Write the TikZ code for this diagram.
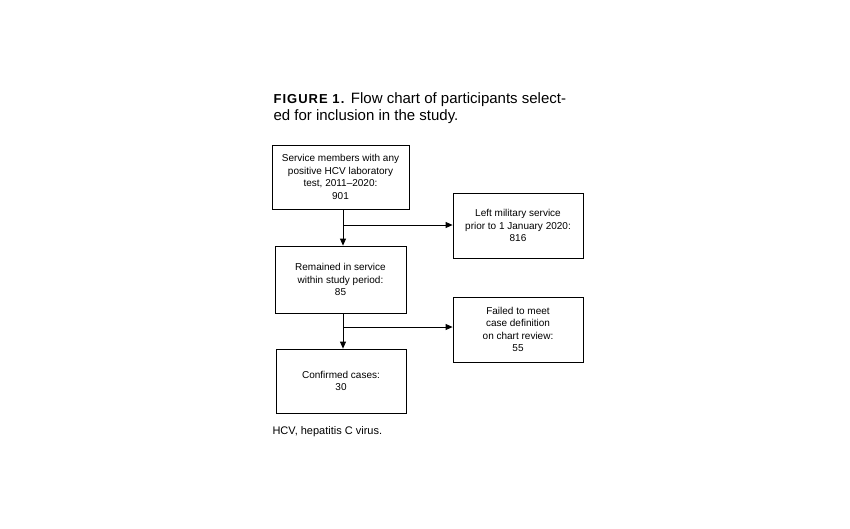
\documentclass[tikz,border=0pt]{standalone}
\usepackage{fontspec}
\setmainfont{Liberation Sans}
\usetikzlibrary{arrows.meta}
\begin{document}
\begin{tikzpicture}[x=1pt,y=-1pt,
  box/.style={draw,line width=0.8pt,minimum width=#1,align=center,font=\fontsize{10}{12.5}\selectfont,inner sep=0pt},
  arr/.style={line width=0.8pt,-{Triangle[length=7pt,width=6pt]}}]
\useasboundingbox (0,0) rectangle (850,528);
\node[anchor=west,font=\fontsize{15}{19}\selectfont] (t1) at (270,100) {\textbf{\addfontfeature{LetterSpace=8}\fontsize{13}{16}\selectfont FIGURE 1.} Flow chart of participants select-};
\node[anchor=west,font=\fontsize{15}{19}\selectfont] (t2) at (270,117) {ed for inclusion in the study.};
\node[box=137pt,minimum height=64pt] (b1) at (340.5,177) {Service members with any\\positive HCV laboratory\\test, 2011--2020:\\901};
\node[box=130pt,minimum height=65pt] (b2) at (518,225.5) {Left military service\\prior to 1 January 2020:\\816};
\node[box=131pt,minimum height=67pt] (b3) at (340.5,279.5) {Remained in service\\within study period:\\85};
\node[box=130pt,minimum height=65pt] (b4) at (518,329.5) {Failed to meet\\case definition\\on chart review:\\55};
\node[box=130pt,minimum height=64pt] (b5) at (341,381) {Confirmed cases:\\30};
\node[anchor=west,font=\fontsize{11}{13}\selectfont] (fn) at (269,432) {HCV, hepatitis C virus.};
\coordinate (j1) at (343,225);
\coordinate (j2) at (343,327);
\draw[arr] (b1.south -| j1) -- (b3.north -| j1);
\draw[arr] (j1) -- (b2.west |- j1);
\draw[arr] (b3.south -| j2) -- (b5.north -| j2);
\draw[arr] (j2) -- (b4.west |- j2);
\end{tikzpicture}
\end{document}
